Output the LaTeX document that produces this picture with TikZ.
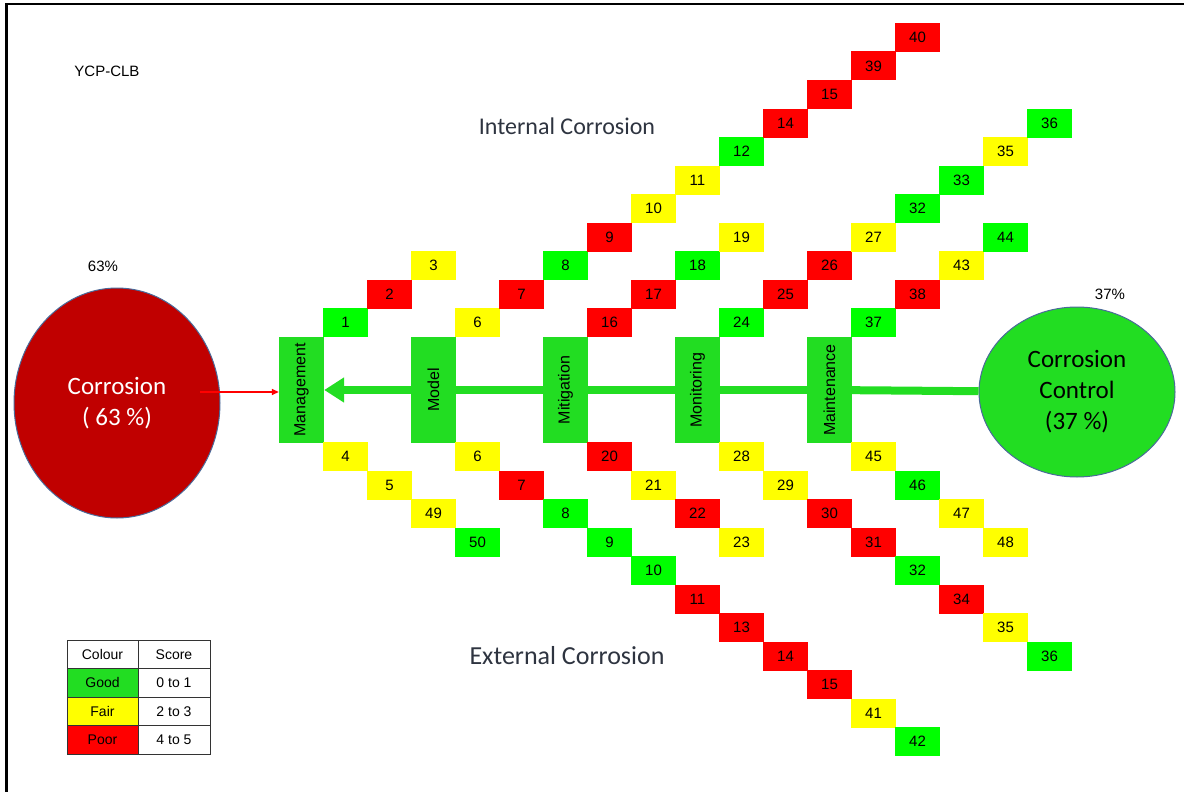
\documentclass[tikz,border=0pt]{standalone}
\usepackage{fontspec}
\setmainfont{Liberation Sans}
\newfontfamily\titlefont{Carlito}
\usetikzlibrary{arrows.meta}
\usetikzlibrary{positioning}
\usetikzlibrary{shapes.geometric}

\definecolor{good}{HTML}{00FF00}
\definecolor{fair}{HTML}{FFFF00}
\definecolor{poor}{HTML}{FF0000}
\definecolor{bonegreen}{HTML}{22DD22}
\definecolor{darkred}{HTML}{C00000}
\definecolor{rimblue}{HTML}{4A6A9A}
\definecolor{headgray}{HTML}{2E3440}

\tikzset{
  cell/.style={rectangle, minimum width=45pt, minimum height=29pt, inner sep=0pt, font=\fontsize{15}{15}\selectfont},
  bone/.style={rectangle, fill=bonegreen, minimum width=45pt, minimum height=106pt, inner sep=0pt, font=\fontsize{16}{16}\selectfont},
  blob/.style={ellipse, draw=rimblue, line width=1pt, inner sep=0pt, align=center, font=\titlefont\fontsize{25}{31}\selectfont},
  legcell/.style={rectangle, draw=black!80, line width=1pt, minimum width=71pt, minimum height=28.5pt, inner sep=0pt, outer sep=0pt, font=\fontsize{14}{14}\selectfont},
  bonebar/.style={line width=8pt, bonegreen},
}

\begin{document}
\begin{tikzpicture}[x=1pt,y=-1pt]
\useasboundingbox (0,0) rectangle (1184,792);
\draw[line width=2.5pt] (6.5,792) -- (6.5,4) -- (1184,4);

\node[font=\fontsize{15}{15}\selectfont] (tag) at (107,71) {YCP-CLB};
\node[font=\fontsize{15}{15}\selectfont] (pctleft) at (103,266) {63\%};
\node[font=\fontsize{15}{15}\selectfont] (pctright) at (1110,294) {37\%};

\node[blob, fill=darkred, text=white, minimum width=206pt, minimum height=230pt] (corr) at (117,403) {Corrosion\\( 63 \%)};
\node[blob, fill=bonegreen, minimum width=196pt, minimum height=170pt] (ctrl) at (1077,392) {Corrosion\\Control\\(37 \%)};

\foreach \b/\name/\txt in {0/mgmt/Management, 3/model/Model, 6/mitig/Mitigation, 9/monit/Monitoring, 12/maint/Maintenance}
  \node[bone] (\name) at ({301.5+44*\b},390) {\rotatebox{90}{\txt}};

\foreach \from/\to in {ctrl/maint, maint/monit, monit/mitig, mitig/model} \draw[bonebar] (\from) -- (\to);
\draw[bonebar, -{Triangle[length=20pt,width=24pt]}] (model) -- (mgmt);

\coordinate (redstart) at (200,392);
\draw[poor, line width=1.5pt, -{Triangle[length=7pt,width=6pt]}] (redstart) -- (redstart -| mgmt.west);

\foreach \lab/\col [count=\i] in {1/good,2/poor,3/fair} \node[cell, fill=\col] (up0-\i) at ({301.5+44*(0+\i)},{322.5-28.5*(\i-1)}) {\lab};
\foreach \lab/\col [count=\i] in {6/fair,7/poor,8/good,9/poor,10/fair,11/fair,12/good,14/poor,15/poor,39/poor,40/poor} \node[cell, fill=\col] (up3-\i) at ({301.5+44*(3+\i)},{322.5-28.5*(\i-1)}) {\lab};
\foreach \lab/\col [count=\i] in {16/poor,17/poor,18/good,19/fair} \node[cell, fill=\col] (up6-\i) at ({301.5+44*(6+\i)},{322.5-28.5*(\i-1)}) {\lab};
\foreach \lab/\col [count=\i] in {24/good,25/poor,26/poor,27/fair,32/good,33/good,35/fair,36/good} \node[cell, fill=\col] (up9-\i) at ({301.5+44*(9+\i)},{322.5-28.5*(\i-1)}) {\lab};
\foreach \lab/\col [count=\i] in {37/good,38/poor,43/fair,44/good} \node[cell, fill=\col] (up12-\i) at ({301.5+44*(12+\i)},{322.5-28.5*(\i-1)}) {\lab};

\foreach \lab/\col [count=\i] in {4/fair,5/fair,49/fair,50/good} \node[cell, fill=\col] (dn0-\i) at ({301.5+44*(0+\i)},{456.5+28.5*(\i-1)}) {\lab};
\foreach \lab/\col [count=\i] in {6/fair,7/poor,8/good,9/good,10/good,11/poor,13/poor,14/poor,15/poor,41/fair,42/good} \node[cell, fill=\col] (dn3-\i) at ({301.5+44*(3+\i)},{456.5+28.5*(\i-1)}) {\lab};
\foreach \lab/\col [count=\i] in {20/poor,21/fair,22/poor,23/fair} \node[cell, fill=\col] (dn6-\i) at ({301.5+44*(6+\i)},{456.5+28.5*(\i-1)}) {\lab};
\foreach \lab/\col [count=\i] in {28/fair,29/fair,30/poor,31/poor,32/good,34/poor,35/fair,36/good} \node[cell, fill=\col] (dn9-\i) at ({301.5+44*(9+\i)},{456.5+28.5*(\i-1)}) {\lab};
\foreach \lab/\col [count=\i] in {45/fair,46/good,47/fair,48/fair} \node[cell, fill=\col] (dn12-\i) at ({301.5+44*(12+\i)},{456.5+28.5*(\i-1)}) {\lab};

\node[font=\titlefont\fontsize{24}{24}\selectfont, text=headgray] (intl) at (567,126) {Internal Corrosion};
\node[font=\titlefont\fontsize{26}{26}\selectfont, text=headgray] (extl) at (567,656) {External Corrosion};

\node[legcell] (leg-head) at (102.5,654.25) {Colour};
\node[legcell, right=0pt of leg-head, minimum width=72pt] (leg-score) {Score};
\node[legcell, fill=bonegreen, below=0pt of leg-head] (leg-good) {Good};
\node[legcell, below=0pt of leg-score, minimum width=72pt] (leg-good-s) {0 to 1};
\node[legcell, fill=fair, below=0pt of leg-good] (leg-fair) {Fair};
\node[legcell, below=0pt of leg-good-s, minimum width=72pt] (leg-fair-s) {2 to 3};
\node[legcell, fill=poor, below=0pt of leg-fair] (leg-poor) {Poor};
\node[legcell, below=0pt of leg-fair-s, minimum width=72pt] (leg-poor-s) {4 to 5};

\end{tikzpicture}
\end{document}
